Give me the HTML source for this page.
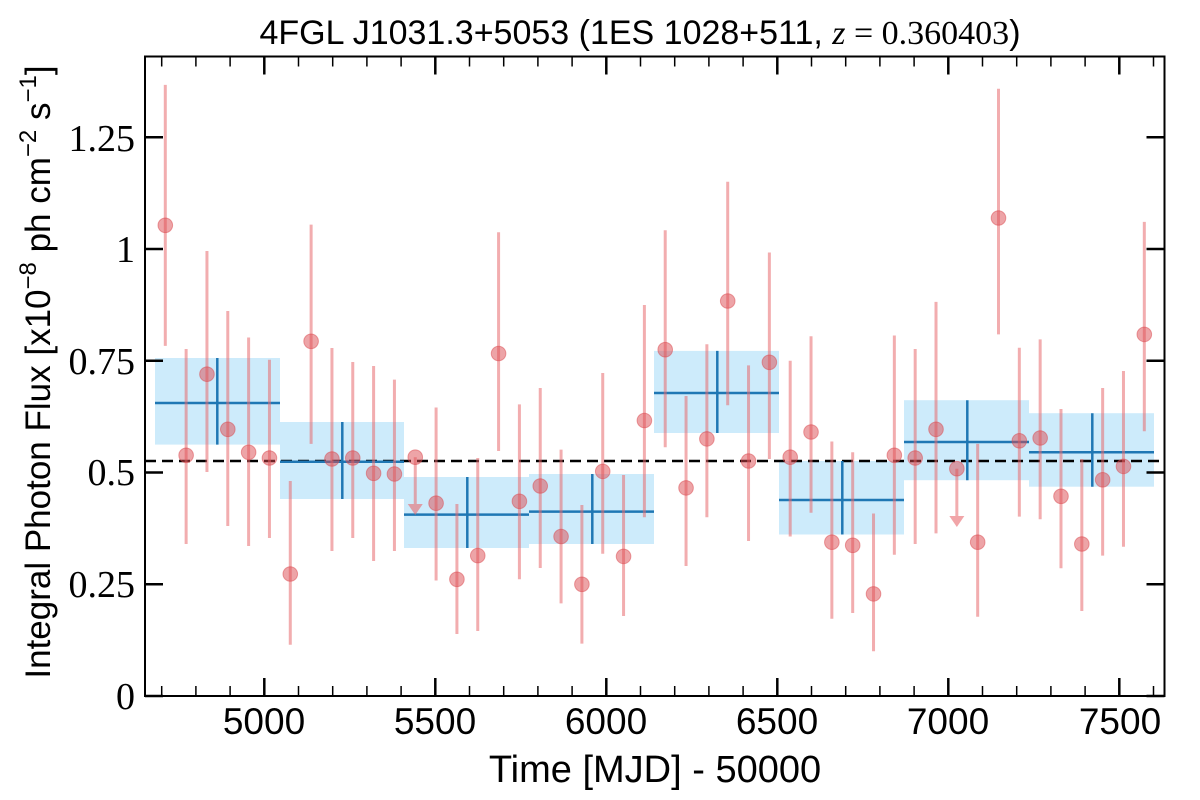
<!DOCTYPE html>
<html><head><meta charset="utf-8"><style>
html,body{margin:0;padding:0;background:#fff;}
svg{display:block;}
.tl{font-family:"Liberation Serif",serif;font-size:38px;fill:#000;}
.xl{font-family:"Liberation Sans",sans-serif;font-size:37px;fill:#000;}
</style></head><body>
<svg id="s" width="1200" height="800" xmlns="http://www.w3.org/2000/svg">
<g id="boxes"></g>
<line x1="145" y1="461" x2="1164" y2="461" stroke="#000" stroke-width="2.5" stroke-dasharray="11,6"/>
<g id="bl"></g>
<g id="pts"></g>
<rect x="145" y="56.5" width="1019.5" height="639.5" fill="none" stroke="#000" stroke-width="2"/>
<g id="ticks" stroke="#000"></g>
<g class="tl" text-anchor="end">
<text x="135" y="709">0</text>
<text x="135" y="597">0.25</text>
<text x="135" y="485">0.5</text>
<text x="135" y="374">0.75</text>
<text x="135" y="262">1</text>
<text x="135" y="151">1.25</text>
</g>
<g class="xl" text-anchor="middle">
<text x="264" y="734">5000</text>
<text x="435" y="734">5500</text>
<text x="606" y="734">6000</text>
<text x="777" y="734">6500</text>
<text x="948" y="734">7000</text>
<text x="1120" y="734">7500</text>
</g>
<text x="655" y="782" text-anchor="middle" font-family="Liberation Sans, sans-serif" font-size="38">Time [MJD] - 50000</text>
<text transform="translate(50,372) rotate(-90)" text-anchor="middle" font-family="Liberation Sans, sans-serif" font-size="35">Integral Photon Flux [x10<tspan dy="-14" font-size="24">−8</tspan><tspan dy="14"> ph cm</tspan><tspan dy="-14" font-size="24">−2</tspan><tspan dy="14"> s</tspan><tspan dy="-14" font-size="24">−1</tspan><tspan dy="14">]</tspan></text>
<text x="640" y="44" text-anchor="middle" font-family="Liberation Sans, sans-serif" font-size="34">4FGL J1031.3+5053 (1ES 1028+511, <tspan font-family="Liberation Serif, serif" font-style="italic">z</tspan><tspan font-family="Liberation Serif, serif"> = 0.360403</tspan>)</text>
</svg>
<script>
var NS="http://www.w3.org/2000/svg";
function el(p,t,a){var e=document.createElementNS(NS,t);for(var k in a)e.setAttribute(k,a[k]);document.getElementById(p).appendChild(e);return e;}
var P=[[225.3,84.9,345.9],[455.3,349,544],[374.2,251,472],[429.3,311,526],[452.3,337.5,546],[458,359.7,538],[574,481,644.8],[341.3,224.6,443.9],[459,348,551],[458,362,538],[473.3,366,561],[474,379.6,551],
[457.2,'U',510],[503.2,407.5,580.5],[579.3,504,634],[555.6,458,631],[353.5,232.2,451],[501.3,404.4,579.3],[486,388,568],[536.5,449.6,603.4],[584.3,505,643.6],[471.4,373,553.7],[556.4,475,616],[420.5,305,517.3],
[349.7,230.3,447.3],[487.9,396,566],[438.9,344.3,517.3],[301,181.7,405.2],[461,365.4,541],[362.3,252.5,459],[457.2,360.8,536.5],[432,336.3,512.7],[542.2,441.5,618.7],[545.3,452.3,613],[593.9,513.5,651.3],[455.3,335.5,554.8],
[458,349,544],[429.3,301.9,533.4],[468.7,'U',522],[542.2,443.9,616.8],[218,88.7,334.4],[440.8,347.8,516.6],[438,339.4,519.2],[496.3,409,568.2],[544,459,611],[479.8,388,555.6],[466.4,371,546.8],[334.4,221.9,431.2]];
P.forEach(function(p,i){var x=165.3+20.83*i;
 if(p[1]==='U'){el('pts','line',{x1:x,y1:p[0],x2:x,y2:p[2]-6,stroke:'#e8696e','stroke-opacity':0.55,'stroke-width':3});
  el('pts','polygon',{points:(x-7.5)+','+(p[2]-6)+' '+(x+7.5)+','+(p[2]-6)+' '+x+','+(p[2]+5),fill:'#e8696e','fill-opacity':0.6});}
 else el('pts','line',{x1:x,y1:p[1],x2:x,y2:p[2],stroke:'#e8696e','stroke-opacity':0.55,'stroke-width':3});
 el('pts','ellipse',{cx:x,cy:p[0],rx:7.3,ry:7.3,fill:'#dc4a50','fill-opacity':0.5,stroke:'#dc4a50','stroke-opacity':0.5,'stroke-width':1});
});
var B=[[155,280,358,444.6,403,217.3],[280,404,422,499,461.8,342.3],[404,529,477,548,514.6,467.3],[529,654,474,544,511.6,592.3],
[654,779,350.9,433,393,717.3],[779,904,461,534.5,500,842.3],[904,1029,400.2,480.2,442,967.3],[1029,1154,413.2,486.7,452.3,1092.3]];
B.forEach(function(b){el('boxes','rect',{x:b[0],y:b[2],width:b[1]-b[0],height:b[3]-b[2],fill:'#cdebfb'});
 el('bl','line',{x1:b[0],y1:b[4],x2:b[1],y2:b[4],stroke:'#1f77b4','stroke-width':2.5});
 el('bl','line',{x1:b[5],y1:b[2],x2:b[5],y2:b[3],stroke:'#1f77b4','stroke-width':2.5});});
for(var t=4700;t<=7600;t+=100){var x=264.3+(t-5000)*0.342;var M=(t%500==0);var L=M?18:10;var w=M?2.5:1.5;
 el('ticks','line',{x1:x,y1:696,x2:x,y2:696-L,'stroke-width':w});
 el('ticks','line',{x1:x,y1:56.5,x2:x,y2:56.5+L,'stroke-width':w});}
for(var v=0;v<=1.25;v+=0.25){var y=696-447*v;
 el('ticks','line',{x1:145,y1:y,x2:163,y2:y,'stroke-width':2.5});
 el('ticks','line',{x1:1164.5,y1:y,x2:1146.5,y2:y,'stroke-width':2.5});}
</script>
</body></html>
